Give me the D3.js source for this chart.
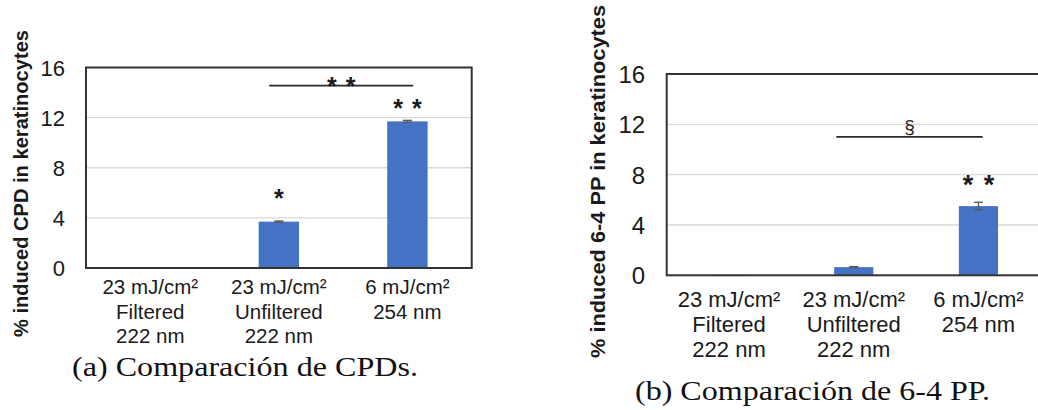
<!DOCTYPE html>
<html>
<head>
<meta charset="utf-8">
<script src="https://cdn.jsdelivr.net/npm/d3@7"></script>
<style>
  html, body { margin: 0; padding: 0; background: #fff; }
  svg { display: block; }
  text { font-family: "Liberation Sans", Arial, sans-serif; fill: #1a1a1a; }
  text.caption { font-family: "Liberation Serif", "Times New Roman", serif; fill: #111; }
</style>
</head>
<body>
<svg id="fig" width="1038" height="410"></svg>
<script>
// Exposure conditions (one label line per entry)
const categories = [
  ["23 mJ/cm\u00B2", "Filtered", "222 nm"],
  ["23 mJ/cm\u00B2", "Unfiltered", "222 nm"],
  ["6 mJ/cm\u00B2", "254 nm"]
];

// % induced CPD in keratinocytes
const cpdValues = [0, 3.7, 11.7];
const cpdErrors = [0, 0.05, 0.08];

// % induced 6-4 PP in keratinocytes
const ppValues = [0.04, 0.65, 5.5];
const ppErrors = [0, 0.04, 0.3];

const yTicks = [0, 4, 8, 12, 16];

// Significance markers above single bars (value level where the mark sits)
const cpdBarMarks = ["", "*", "* *"];
const cpdBarMarkLevels = [null, 6.0, 13.2];
const ppBarMarks = ["", "", "* *"];
const ppBarMarkLevels = [null, null, 7.7];

// Pairwise comparison bars: [from category, to category, level, label]
const cpdBracket = [1, 2, 14.55, "* *"];
const ppBracket = [1, 2, 11.0, "\u00A7"];

const titles = ["% induced CPD in keratinocytes", "% induced 6-4 PP in keratinocytes"];
const captions = ["(a) Comparaci\u00F3n de CPDs.", "(b) Comparaci\u00F3n de 6-4 PP."];

const svg = d3.select("#fig");
const BAR = "#4472C4";

function panel(opt) {
  const g = svg.append("g");
  const x = d3.scaleBand()
    .domain(d3.range(categories.length))
    .range([opt.left, opt.right])
    .paddingInner(0.686)
    .paddingOuter(0.343);
  const y = d3.scaleLinear().domain([0, 16]).range([opt.bottom, opt.top]);
  const cx = i => x(i) + x.bandwidth() / 2;

  // horizontal gridlines
  g.append("g").selectAll("line").data(yTicks.filter(t => t > 0 && t < 16)).join("line")
    .attr("x1", opt.left).attr("x2", opt.right)
    .attr("y1", d => y(d)).attr("y2", d => y(d))
    .attr("stroke", "#d9d9d9").attr("stroke-width", 1.3);

  // bars
  g.append("g").selectAll("rect").data(opt.values).join("rect")
    .attr("x", (d, i) => x(i))
    .attr("width", x.bandwidth())
    .attr("y", d => y(d))
    .attr("height", d => y(0) - y(d))
    .attr("fill", BAR);

  // error bars
  const eb = g.append("g").attr("stroke", "#5a5a5a").attr("stroke-width", 1.4);
  opt.values.forEach((v, i) => {
    const e = opt.errors[i];
    if (!e) return;
    eb.append("line").attr("x1", cx(i)).attr("x2", cx(i)).attr("y1", y(v - e)).attr("y2", y(v + e));
    eb.append("line").attr("x1", cx(i) - 4.5).attr("x2", cx(i) + 4.5).attr("y1", y(v + e)).attr("y2", y(v + e));
    eb.append("line").attr("x1", cx(i) - 4.5).attr("x2", cx(i) + 4.5).attr("y1", y(v - e)).attr("y2", y(v - e));
  });

  // frame
  g.append("rect")
    .attr("x", opt.left).attr("y", opt.top)
    .attr("width", opt.right - opt.left).attr("height", opt.bottom - opt.top)
    .attr("fill", "none").attr("stroke", "#333").attr("stroke-width", 2);

  // y axis tick labels
  const ax = g.append("g")
    .attr("transform", `translate(${opt.left - opt.tickGap},0)`)
    .call(d3.axisLeft(y).tickValues(yTicks).tickSize(0).tickPadding(0).tickFormat(d3.format("d")));
  ax.select(".domain").remove();
  ax.selectAll("text")
    .style("font-family", "'Liberation Sans', Arial, sans-serif")
    .style("font-size", opt.tickSize + "px")
    .style("fill", "#1a1a1a")
    .attr("dy", "0.36em");

  // y axis title
  g.append("text")
    .attr("transform", `translate(${opt.titleX},${opt.titleY}) rotate(-90)`)
    .attr("text-anchor", "middle")
    .attr("dominant-baseline", "central")
    .attr("font-weight", "bold")
    .attr("font-size", opt.titleSize)
    .attr("textLength", opt.titleLen)
    .attr("lengthAdjust", "spacingAndGlyphs")
    .text(opt.title);

  // category labels
  categories.forEach((lines, i) => {
    const t = g.append("text")
      .attr("text-anchor", "middle")
      .attr("font-size", opt.catSize);
    lines.forEach((s, k) => {
      t.append("tspan").attr("x", cx(i)).attr("y", opt.catY + k * opt.catLead).text(s);
    });
  });

  // asterisks over single bars
  opt.marks.forEach((m, i) => {
    if (!m) return;
    g.append("text")
      .attr("x", cx(i)).attr("y", y(opt.markLevels[i]) + opt.starSize * 0.58)
      .attr("text-anchor", "middle")
      .attr("font-weight", "bold")
      .attr("font-size", opt.starSize)
      .attr("word-spacing", opt.starGap)
      .text(m);
  });

  // comparison line
  const [a, b, lvl, lab] = opt.bracket;
  const xa = cx(a) + opt.brFrom * x.step();
  const xb = cx(b) + opt.brTo * x.step();
  g.append("line")
    .attr("x1", xa).attr("x2", xb)
    .attr("y1", y(lvl)).attr("y2", y(lvl))
    .attr("stroke", "#2a2a2a").attr("stroke-width", 1.8);
  g.append("text")
    .attr("x", (xa + xb) / 2)
    .attr("y", y(lvl) - opt.brLift)
    .attr("text-anchor", "middle")
    .attr("font-weight", lab === "\u00A7" ? "normal" : "bold")
    .attr("font-size", lab === "\u00A7" ? opt.secSize : opt.starSize)
    .attr("word-spacing", opt.starGap)
    .text(lab);

  // caption
  g.append("text")
    .attr("class", "caption")
    .attr("x", opt.capX).attr("y", opt.capY)
    .attr("text-anchor", "middle")
    .attr("font-size", 27)
    .attr("textLength", opt.capW)
    .attr("lengthAdjust", "spacingAndGlyphs")
    .text(opt.caption);
}

panel({
  left: 86, right: 471.7, top: 67.5, bottom: 268,
  values: cpdValues, errors: cpdErrors,
  marks: cpdBarMarks, markLevels: cpdBarMarkLevels,
  bracket: cpdBracket, brFrom: -0.075, brTo: 0.045, brLift: -9,
  tickGap: 21, tickSize: 22,
  title: titles[0], titleX: 21, titleY: 183.5, titleSize: 19.5, titleLen: 307,
  catSize: 20.5, catY: 294, catLead: 24.7,
  starSize: 25, starGap: 2, secSize: 18,
  caption: captions[0], capX: 245, capY: 376, capW: 346
});

panel({
  left: 666.7, right: 1040.8, top: 74, bottom: 275.3,
  values: ppValues, errors: ppErrors,
  marks: ppBarMarks, markLevels: ppBarMarkLevels,
  bracket: ppBracket, brFrom: -0.14, brTo: 0.034, brLift: 4,
  tickGap: 21.5, tickSize: 24,
  title: titles[1], titleX: 597, titleY: 181.5, titleSize: 21, titleLen: 353,
  catSize: 22, catY: 306.5, catLead: 25,
  starSize: 27, starGap: 3, secSize: 19,
  caption: captions[1], capX: 812.5, capY: 400, capW: 355
});
</script>
</body>
</html>
